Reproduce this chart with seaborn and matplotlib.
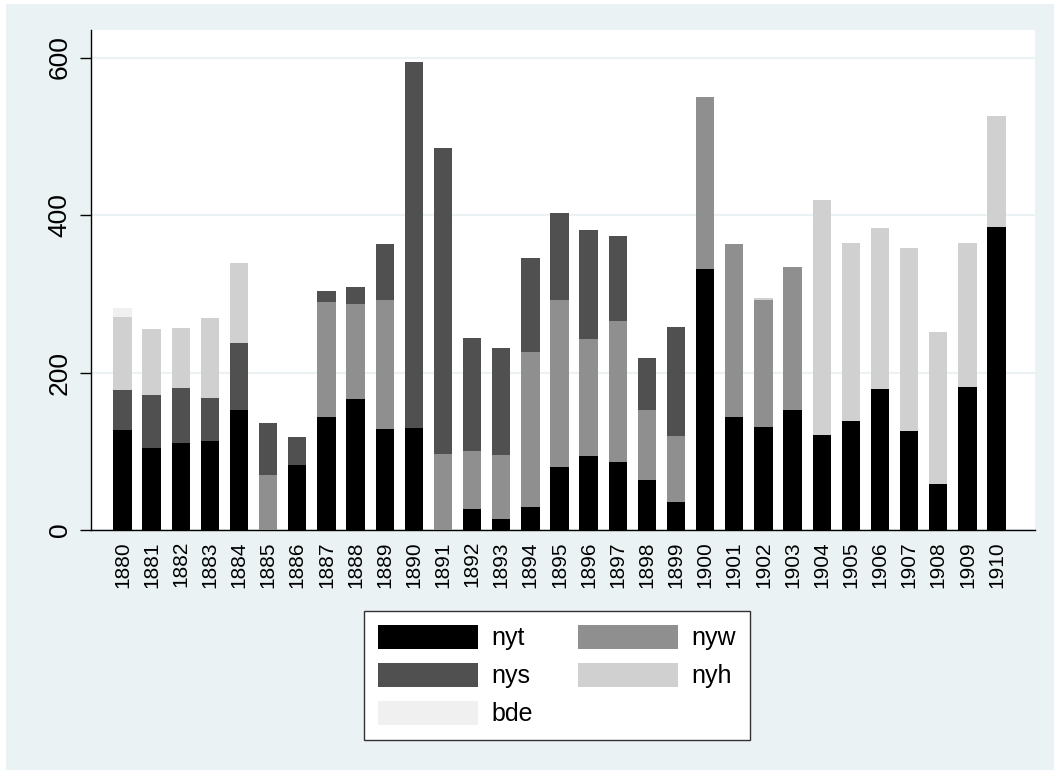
import numpy as np
import pandas as pd
import matplotlib.pyplot as plt
import seaborn as sns
from matplotlib.patches import Patch, Rectangle

years = ['1880', '1881', '1882', '1883', '1884', '1885', '1886', '1887', '1888', '1889',
         '1890', '1891', '1892', '1893', '1894', '1895', '1896', '1897', '1898', '1899',
         '1900', '1901', '1902', '1903', '1904', '1905', '1906', '1907', '1908', '1909',
         '1910']

nyt = [127, 104, 110, 113, 153, 0, 82, 143, 166, 128,
       130, 0, 27, 14, 29, 80, 94, 86, 64, 35,
       331, 143, 131, 153, 121, 138, 179, 126, 58, 181,
       385]
nyw = [0, 0, 0, 0, 0, 70, 0, 146, 121, 164,
       0, 96, 73, 81, 197, 212, 148, 179, 88, 84,
       219, 220, 161, 181, 0, 0, 0, 0, 0, 0,
       0]
nys = [51, 68, 70, 55, 84, 66, 36, 14, 21, 71,
       464, 389, 144, 136, 119, 110, 139, 109, 66, 139,
       0, 0, 0, 0, 0, 0, 0, 0, 0, 0,
       0]
nyh = [92, 83, 77, 101, 102, 0, 0, 0, 0, 0,
       0, 0, 0, 0, 0, 0, 0, 0, 0, 0,
       0, 0, 3, 0, 298, 227, 204, 232, 194, 184,
       141]
bde = [12, 0, 0, 0, 0, 0, 0, 0, 0, 0,
       0, 0, 0, 0, 0, 0, 0, 0, 0, 0,
       0, 0, 0, 0, 0, 0, 0, 0, 0, 0,
       0]

df = pd.DataFrame({'year': years, 'nyt': nyt, 'nyw': nyw, 'nys': nys,
                   'nyh': nyh, 'bde': bde})

# stacking order, bottom to top
order = ['nyt', 'nyw', 'nys', 'nyh', 'bde']
colors = {'nyt': '#000000', 'nyw': '#8f8f8f', 'nys': '#505050',
          'nyh': '#d0d0d0', 'bde': '#f0f0f0'}

bg = '#eaf2f3'
sns.set_theme(style='white')
plt.rcParams['font.family'] = ['Liberation Sans', 'DejaVu Sans']
plt.rcParams['text.color'] = 'black'
plt.rcParams['xtick.color'] = 'black'
plt.rcParams['ytick.color'] = 'black'

fig = plt.figure(figsize=(10.54, 7.70), dpi=100)
fig.patch.set_facecolor(bg)
# thin white strips on the left and top edge
fig.patches.append(Rectangle((0, 0), 6 / 1054, 1, transform=fig.transFigure,
                             facecolor='white', edgecolor='none', zorder=-10))
fig.patches.append(Rectangle((0, 1 - 4 / 770), 1, 4 / 770, transform=fig.transFigure,
                             facecolor='white', edgecolor='none', zorder=-10))
ax = fig.add_axes([91 / 1054, 240 / 770, (1035 - 91) / 1054, 500 / 770])
ax.set_facecolor('white')

# draw cumulative heights from the top series down
for i in range(len(order) - 1, -1, -1):
    cum = df[order[:i + 1]].sum(axis=1)
    sns.barplot(x=df['year'], y=cum, color=colors[order[i]], saturation=1,
                width=0.63, linewidth=0, errorbar=None, ax=ax, zorder=3)

ax.set_xlim(-1.08, 30 + 1.32)
ax.set_ylim(0, 635)
ax.set_yticks([0, 200, 400, 600])
ax.yaxis.grid(True, color=bg, linewidth=1.5, zorder=0)
ax.set_axisbelow(True)
ax.set_xlabel('')
ax.set_ylabel('')

for s in ['top', 'right']:
    ax.spines[s].set_visible(False)
for s in ['left', 'bottom']:
    ax.spines[s].set_color('black')
    ax.spines[s].set_linewidth(1)

ax.tick_params(axis='y', labelsize=19, length=8, width=1, color='black', labelcolor='black',
               pad=6, left=True, labelrotation=90)
for lab in ax.get_yticklabels():
    lab.set_va('center')
ax.tick_params(axis='x', labelsize=15, length=0, pad=8, labelcolor='black', labelrotation=90)

handles = [Patch(facecolor=colors[k], edgecolor='none') for k in ['nyt', 'nys', 'bde', 'nyw', 'nyh']]
labels = ['nyt', 'nys', 'bde', 'nyw', 'nyh']
leg = ax.legend(handles, labels, ncol=2, loc='upper left', bbox_to_anchor=((364 - 91) / 944, -0.162),
                frameon=True, fancybox=False, fontsize=18, handlelength=4.0,
                handleheight=1.1, handletextpad=0.55, labelspacing=0.5,
                columnspacing=1.8, borderpad=0.55, borderaxespad=0)
leg.get_frame().set_edgecolor('#333333')
leg.get_frame().set_linewidth(1)
leg.get_frame().set_facecolor('white')
leg.get_frame().set_alpha(1)
for t in leg.get_texts():
    t.set_color('black')

fig.savefig('out.png', dpi=100, facecolor=fig.get_facecolor())
